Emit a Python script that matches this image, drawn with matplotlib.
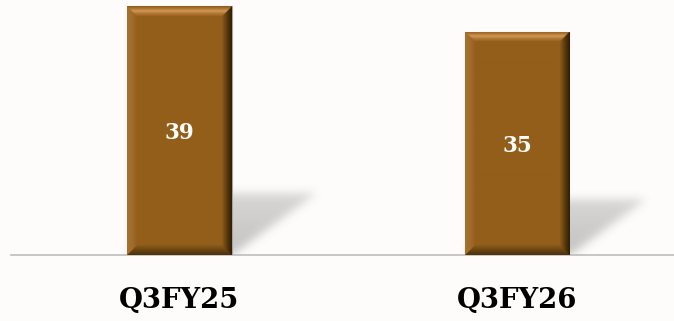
import numpy as np
import matplotlib
matplotlib.use("Agg")
import matplotlib.pyplot as plt
from matplotlib.colors import to_rgb

categories = ["Q3FY25", "Q3FY26"]
values = [39, 35]

W_PX, H_PX, DPI = 674, 321, 100
BG = "#FDFCFA"
FACE = "#935E1A"

fig = plt.figure(figsize=(W_PX / DPI, H_PX / DPI), dpi=DPI, facecolor=BG)
ax = fig.add_axes([11 / W_PX, 66 / H_PX, 663 / W_PX, 255 / H_PX])
ax.set_facecolor(BG)
ax.set_xlim(-0.4993, 1.4652)
ax.set_ylim(0, 40)
for s in ("left", "right", "top"):
    ax.spines[s].set_visible(False)
ax.spines["bottom"].set_color("#BDBDBD")
ax.spines["bottom"].set_linewidth(1.2)
ax.set_yticks([])
ax.set_xticks([])

x = np.arange(len(categories))
bar_w = 0.311
bars = ax.bar(x, values, width=bar_w, color=FACE, edgecolor="#A9A49B",
              linewidth=0.8, zorder=3)

# pixel scale of the data axes
px_x = ax.get_position().width * W_PX / (ax.get_xlim()[1] - ax.get_xlim()[0])
px_y = ax.get_position().height * H_PX / (ax.get_ylim()[1] - ax.get_ylim()[0])


def blur1d(a, sigma, axis):
    r = int(3 * sigma)
    k = np.exp(-0.5 * (np.arange(-r, r + 1) / sigma) ** 2)
    k /= k.sum()
    return np.apply_along_axis(lambda m: np.convolve(m, k, mode="same"), axis, a)


# soft perspective shadows cast to the back right
for xc, v in zip(x, values):
    x0 = xc - bar_w / 2
    x1 = xc + bar_w / 2
    h_px = v * px_y
    dx_px = 0.34 * h_px
    dy_px = 0.25 * h_px
    left_px = x0 * px_x
    pad = 25
    nx = int((bar_w * px_x) + dx_px + 2 * pad)
    ny = int(dy_px + pad)
    gx = left_px - pad + np.arange(nx) + 0.5
    gy = np.arange(ny) + 0.5
    GX, GY = np.meshgrid(gx, gy)
    shift = GY / dy_px * dx_px
    inside = (GY <= dy_px) & (GX >= left_px + shift) & (GX <= x1 * px_x + shift)
    m = inside.astype(float)
    m = blur1d(m, 4.5, 0)
    m = blur1d(m, 4.5, 1)
    fade = np.clip(1.0 - 0.35 * GY / dy_px, 0, 1)
    alpha = 0.42 * m * fade
    rgba = np.zeros((ny, nx, 4))
    rgba[..., :3] = 0.45
    rgba[..., 3] = alpha
    ax.imshow(rgba, origin="lower", interpolation="bilinear",
              extent=(gx[0] / px_x - 0.5 / px_x, gx[-1] / px_x + 0.5 / px_x,
                      0, ny / px_y),
              aspect="auto", zorder=2)


def lerp_profile(t, stops):
    ts = [s[0] for s in stops]
    cols = np.array([to_rgb(s[1]) for s in stops])
    return np.stack([np.interp(t, ts, cols[:, i]) for i in range(3)], axis=-1)


# bevelled shading on each bar
b = 10.0
top_stops = [(0, "#8A5A1B"), (0.2, "#A56E2C"), (0.5, "#D29853"),
             (0.75, "#B17733"), (1, "#9A6421")]
left_stops = [(0, "#A87332"), (0.5, "#A26C29"), (1, "#956020")]
right_stops = [(0, "#2E1C04"), (0.5, "#5A3A0E"), (1, "#8E5C1A")]
bot_stops = [(0, "#4A300B"), (0.5, "#6A4512"), (1, "#8E5C1A")]
for rect in bars:
    x0, y0 = rect.get_x(), rect.get_y()
    w, h = rect.get_width(), rect.get_height()
    wp, hp = int(round(w * px_x)) * 2, int(round(h * px_y)) * 2
    u = (np.arange(wp) + 0.5) / 2
    vv = (np.arange(hp) + 0.5) / 2
    U, V = np.meshgrid(u, vv)  # V measured from top
    dl, dr, dt, db = U, wp / 2 - U, V, hp / 2 - V
    img = np.empty((hp, wp, 3))
    img[:] = to_rgb(FACE)
    dmin = np.minimum(np.minimum(dl, dr), np.minimum(dt, db))
    for d, stops in ((db, bot_stops), (dl, left_stops),
                     (dr, right_stops), (dt, top_stops)):
        sel = (d <= dmin + 1e-9) & (d < b)
        img[sel] = lerp_profile(d[sel] / b, stops)
    im = ax.imshow(img, origin="upper", interpolation="antialiased",
                   extent=(x0, x0 + w, y0, y0 + h), aspect="auto", zorder=3.5)
    im.set_clip_path(rect)

ax.set_xlim(-0.4993, 1.4652)
ax.set_ylim(0, 40)

serif = ["DejaVu Serif"]
for xc, v in zip(x, values):
    ax.annotate(f"{v}", xy=(xc, v / 2), xytext=(0, -1.8), textcoords="offset points",
                ha="center", va="center", color="white",
                fontsize=15.5, fontweight="bold", family=serif, zorder=5)
    ax.annotate(categories[int(xc)], xy=(xc, 0), xycoords=("data", "axes fraction"),
                xytext=(0, -38.2), textcoords="offset points",
                ha="center", va="baseline", fontsize=19.8, fontweight="bold",
                family=serif, color="black")

fig.savefig("out.png", dpi=DPI, facecolor=BG)
